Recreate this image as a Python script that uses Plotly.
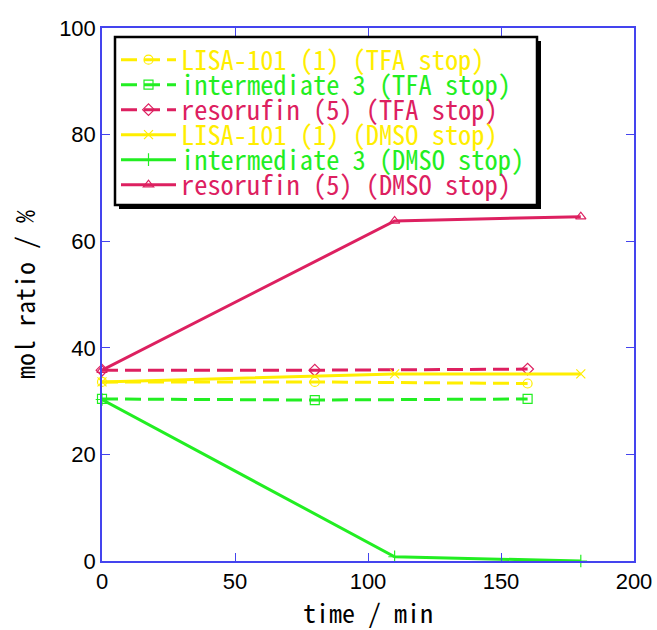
import plotly.graph_objects as go

# data
tfa_time = [0, 80, 160]
lisa_tfa = [33.6, 33.6, 33.3]
inter_tfa = [30.4, 30.2, 30.4]
reso_tfa = [35.8, 35.8, 36.0]

dmso_time = [0, 110, 180]
lisa_dmso = [33.6, 35.1, 35.1]
inter_dmso = [30.3, 0.8, 0.0]
reso_dmso = [35.8, 63.8, 64.6]

YEL = "#FFEE00"
GRN = "#22EE22"
RED = "#DD2060"
AX = "#4444EE"

series = [
    ("LISA-101 (1) (TFA stop)", tfa_time, lisa_tfa, YEL, "circle-open", "16px,7px"),
    ("intermediate 3 (TFA stop)", tfa_time, inter_tfa, GRN, "square-open", "16px,7px"),
    ("resorufin (5) (TFA stop)", tfa_time, reso_tfa, RED, "diamond-open", "16px,7px"),
    ("LISA-101 (1) (DMSO stop)", dmso_time, lisa_dmso, YEL, "x-thin-open", "solid"),
    ("intermediate 3 (DMSO stop)", dmso_time, inter_dmso, GRN, "cross-thin-open", "solid"),
    ("resorufin (5) (DMSO stop)", dmso_time, reso_dmso, RED, "triangle-up-open", "solid"),
]

L, R, T, B = 102, 634, 28, 561
W, H = 657, 630
def px(xp):
    return (xp - L) / (R - L)
def py(yp):
    return (B - yp) / (B - T)

mono = "Noto Sans Mono CJK JP, DejaVu Sans Mono, monospace"

fig = go.Figure()
layout_legends = {}
for i, (name, x, y, c, sym, dash) in enumerate(series):
    key = "legend" if i == 0 else f"legend{i+1}"
    fig.add_trace(go.Scatter(
        x=x, y=y, name=name, mode="lines+markers",
        line=dict(color=c, width=3, dash=dash),
        marker=dict(symbol=sym, size=9, color=c, line=dict(color=c, width=1.2)),
        cliponaxis=False, legend=key,
    ))
    layout_legends[key] = dict(
        x=px(116), y=py(60 + 25 * i), xanchor="left", yanchor="middle",
        bgcolor="rgba(0,0,0,0)", borderwidth=0,
        font=dict(family=mono, size=26.4, color=c), itemwidth=55,
    )

axcommon = dict(showgrid=False, zeroline=False, showline=True, linecolor=AX, linewidth=1.5,
                mirror="allticks", ticks="inside", tickcolor=AX, ticklen=8, tickwidth=1.2,
                automargin=False,
                tickfont=dict(family="Liberation Sans", size=22, color="black"))

fig.update_layout(
    width=W, height=H,
    margin=dict(l=L, r=W - R, t=T, b=H - B),
    paper_bgcolor="white", plot_bgcolor="white",
    xaxis=dict(range=[0, 200], tickvals=[0, 50, 100, 150, 200],
               title=dict(text="time / min", font=dict(family=mono, size=26, color="black"), standoff=12),
               **axcommon),
    yaxis=dict(range=[0, 100], tickvals=[0, 20, 40, 60, 80, 100],
               title=dict(text="mol ratio / %", font=dict(family=mono, size=26, color="black"), standoff=16),
               **axcommon),
    showlegend=True,
    **layout_legends,
)

# legend frame with drop shadow
fig.add_shape(type="rect", xref="paper", yref="paper",
              x0=px(119), x1=px(541), y0=py(209), y1=py(41),
              fillcolor="black", line=dict(width=0), layer="above")
fig.add_shape(type="rect", xref="paper", yref="paper",
              x0=px(115), x1=px(537), y0=py(205), y1=py(37),
              fillcolor="white", line=dict(color="black", width=2.5), layer="above")

fig.write_html("out.html")
